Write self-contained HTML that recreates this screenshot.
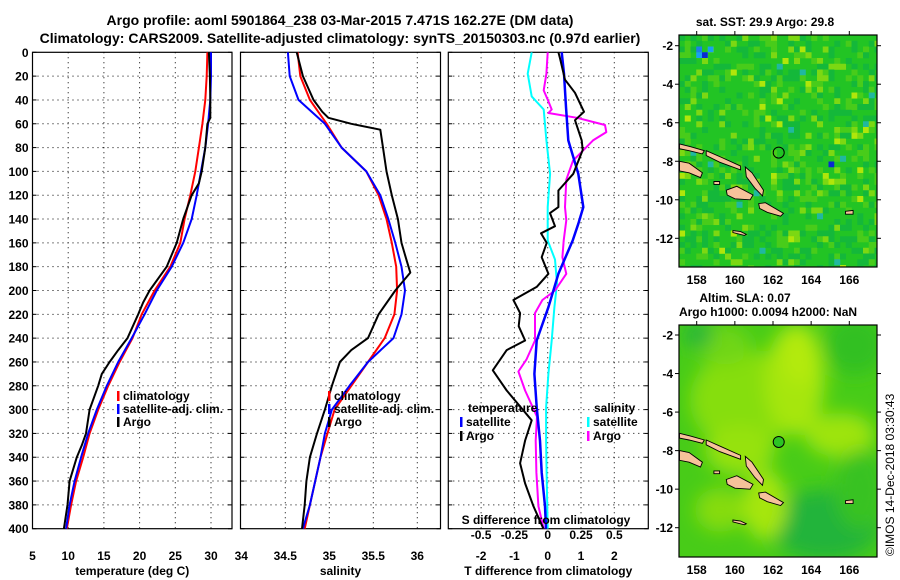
<!DOCTYPE html>
<html><head><meta charset="utf-8"><style>
html,body{margin:0;padding:0;background:#fff;}
svg{display:block;font-family:"Liberation Sans",Arial,sans-serif;font-weight:bold;}
</style></head><body>
<svg id="c" width="900" height="580" viewBox="0 0 900 580" xmlns="http://www.w3.org/2000/svg">
<defs><filter id="blur" x="-20%" y="-20%" width="140%" height="140%"><feGaussianBlur stdDeviation="9"/></filter></defs>
<text x="340" y="25" font-size="14" text-anchor="middle">Argo profile: aoml 5901864_238 03-Mar-2015 7.471S 162.27E (DM data)</text>
<text x="340" y="43" font-size="14" text-anchor="middle">Climatology: CARS2009. Satellite-adjusted climatology: synTS_20150303.nc (0.97d earlier)</text>
<text x="765" y="26" font-size="12" text-anchor="middle">sat. SST: 29.9 Argo: 29.8</text>
<text x="745" y="302" font-size="12" text-anchor="middle">Altim. SLA: 0.07</text>
<text x="768" y="316" font-size="12" text-anchor="middle">Argo h1000: 0.0094 h2000: NaN</text>
<text transform="translate(894,556) rotate(-90)" font-size="12" font-weight="normal">©IMOS 14-Dec-2018 03:30:43</text>
</svg>
<script>
// ---------- data ----------
const depths = [0,20,40,60,80,100,120,140,160,180,200,220,240,260,280,300,320,340,360,380,400];
const tempClim = [29.5,29.4,29.2,28.8,28.3,27.8,27.1,26.3,25.7,24.3,22.1,20.3,19.0,17.2,15.6,14.2,13.0,12.1,11.1,10.4,9.8];
const tempSat  = [30.0,30.0,29.9,29.6,29.2,28.6,28.0,27.3,26.1,24.5,22.4,20.7,18.9,17.0,15.4,14.0,12.8,11.8,10.9,10.2,9.7];
const argoDepthT = [0,20,40,55,60,80,100,110,120,140,160,180,200,210,220,240,250,260,270,280,300,320,330,340,360,380,400];
const tempArgo   = [29.7,29.85,29.9,29.9,29.5,29.2,28.7,28.3,27.3,26.1,25.2,23.8,21.4,20.5,19.8,18.3,17.0,15.8,14.7,14.2,13.0,12.5,11.9,11.2,10.2,9.9,9.4];

const salClim = [34.64,34.67,34.78,34.97,35.14,35.42,35.56,35.65,35.71,35.76,35.77,35.74,35.63,35.44,35.25,35.06,34.98,34.9,34.84,34.78,34.72];
const salSat  = [34.53,34.55,34.65,34.95,35.14,35.42,35.58,35.67,35.75,35.82,35.86,35.82,35.73,35.44,35.23,35.03,34.95,34.9,34.84,34.78,34.7];
const argoDepthS = [0,20,40,50,55,60,65,80,100,120,140,160,175,185,200,220,240,250,260,280,300,320,340,360,380,400];
const salArgo    = [34.63,34.7,34.82,34.92,34.99,35.25,35.58,35.61,35.65,35.71,35.78,35.82,35.88,35.92,35.75,35.56,35.44,35.25,35.12,35.03,34.95,34.86,34.78,34.74,34.72,34.69];

const dDepthTS = [0,18,46,74,102,130,144,158,186,214,242,270,298,326,353,381,400];
const dTsat    = [0.42,0.49,0.55,0.62,0.92,1.07,0.92,0.75,0.32,0.02,-0.33,-0.4,-0.33,-0.23,-0.18,-0.08,-0.05];
const dDepthTA = [0,5,23,34,50,57,74,82,102,116,130,135,146,152,160,172,186,197,208,219,230,242,250,267,284,309,326,345,362,381,400];
const dTargo   = [0.32,0.37,0.52,0.82,1.09,0.82,1.02,1.05,0.77,0.32,0.32,0.07,0.22,-0.2,-0.03,-0.18,0.02,-0.33,-1.03,-0.83,-0.87,-0.68,-1.23,-1.65,-1.23,-0.48,-0.68,-0.83,-0.68,-0.43,-0.13];
const dDepthSS = [0,18,37,48,74,102,130,158,174,194,214,242,270,298,326,353,400];
const dSsat    = [-0.12,-0.15,-0.12,-0.03,-0.01,0.018,0,0,0.055,0.07,0.05,0.03,0.005,-0.012,-0.012,-0.008,0];
const dDepthSA = [0,18,32,40,48,51,55,61,67,74,91,107,130,141,158,172,186,200,208,219,242,258,268,284,306,326,353,381,400];
const dSargo   = [0,-0.01,-0.03,0.001,0.03,0.005,0.22,0.43,0.44,0.34,0.19,0.14,0.13,0.14,0.12,0.11,0.14,0.055,-0.04,-0.095,-0.095,-0.16,-0.22,-0.17,-0.08,-0.09,-0.085,-0.07,-0.03];

const tTicks = [5,10,15,20,25,30];
const sTicks = [34,34.5,35,35.5,36];
const dTicks = [-2,-1,0,1,2];
const sdTicks = [-0.5,-0.25,0,0.25,0.5];
const depthTicks = [0,20,40,60,80,100,120,140,160,180,200,220,240,260,280,300,320,340,360,380,400];
const lonTicks = [158,160,162,164,166];
const latTicks = [-2,-4,-6,-8,-10,-12];

// ---------- helpers ----------
const svg = document.getElementById('c');
const NS = 'http://www.w3.org/2000/svg';
function mk(tag, attrs, parent){const e=document.createElementNS(NS,tag);for(const k in attrs)e.setAttribute(k,attrs[k]);(parent||svg).appendChild(e);return e;}
function lin(d0,d1,r0,r1){return v=>r0+(v-d0)*(r1-r0)/(d1-d0);}
const Y0=52.3,Y1=528.7;
const yD = lin(0,400,Y0,Y1);

function panel(name,x0,x1,xs,xticks,xlabels,xtitle,showY){
  const g=mk('g',{});
  
  
  const fr=mk('rect',{x:x0,y:Y0,width:x1-x0,height:Y1-Y0,fill:'none',stroke:'#000','stroke-width':1.2},g);
  
  
  depthTicks.forEach(d=>{
    if(d>0&&d<400){const gl=mk('line',{x1:x0,x2:x1,y1:yD(d),y2:yD(d),stroke:'#000','stroke-width':1,'stroke-dasharray':'1,4'},g);
    
    }
    mk('line',{x1:x0,x2:x0+4,y1:yD(d),y2:yD(d),stroke:'#000'},g);
    mk('line',{x1:x1-4,x2:x1,y1:yD(d),y2:yD(d),stroke:'#000'},g);
    if(showY){const t=mk('text',{x:x0-4,y:yD(d)+4.5,'font-size':12,'text-anchor':'end'},g);t.textContent=d;
      
      }
  });
  xticks.forEach((v,i)=>{
    const x=xs(v);
    if(x>x0+1&&x<x1-1){const gl=mk('line',{x1:x,x2:x,y1:Y0,y2:Y1,stroke:'#000','stroke-width':1,'stroke-dasharray':'1,4'},g);
      
      }
    const t=mk('text',{x:x,y:560,'font-size':12,'text-anchor':'middle'},g);t.textContent=xlabels[i];
    
    
  });
  const tt=mk('text',{x:(x0+x1)/2,y:575,'font-size':12,'text-anchor':'middle'},g);tt.textContent=xtitle;
  
  
  return g;
}
function line(g,name,xs,xv,dv,color,w){
  const pts=xv.map((v,i)=>xs(v).toFixed(1)+','+yD(dv[i]).toFixed(1)).join(' ');
  const p=mk('polyline',{points:pts,fill:'none',stroke:color,'stroke-width':w||2,'stroke-linejoin':'round'},g);
  
  
}
function legend(g,x,y,color,label){
  mk('rect',{x:x,y:y-9,width:2.5,height:10,fill:color},g);
  const t=mk('text',{x:x+6,y:y,'font-size':12},g);t.textContent=label;
  
  
}

// ---------- panel 1 ----------
const xT=lin(5,30,32.5,211);
const p1=panel('temperature-panel',32.5,232,xT,tTicks,tTicks.map(String),'temperature (deg C)',true);
line(p1,'temp-climatology-line',xT,tempClim,depths,'#f00');
line(p1,'temp-satellite-line',xT,tempSat,depths,'#00f');
line(p1,'temp-argo-line',xT,tempArgo,argoDepthT,'#000');
legend(p1,117,400,'#f00','climatology');
legend(p1,117,413,'#00f','satellite-adj. clim.');
legend(p1,117,426,'#000','Argo');

// ---------- panel 2 ----------
const xS=lin(34,35,241.3,329.3);
const p2=panel('salinity-panel',240.5,440.5,xS,sTicks,sTicks.map(String),'salinity',false);
line(p2,'sal-climatology-line',xS,salClim,depths,'#f00');
line(p2,'sal-satellite-line',xS,salSat,depths,'#00f');
line(p2,'sal-argo-line',xS,salArgo,argoDepthS,'#000');
legend(p2,328,400,'#f00','climatology');
legend(p2,328,413,'#00f','satellite-adj. clim.');
legend(p2,328,426,'#000','Argo');

// ---------- panel 3 ----------
const xDT=lin(0,1,547.7,581);
const xDS=v=>xDT(v*4);
const p3=panel('difference-panel',448.3,648.3,xDT,dTicks,dTicks.map(String),'T difference from climatology',false);
line(p3,'dsal-satellite-line',xDS,dSsat,dDepthSS,'#0ff');
line(p3,'dsal-argo-line',xDS,dSargo,dDepthSA,'#f0f');
line(p3,'dtemp-satellite-line',xDT,dTsat,dDepthTS,'#00f',2.5);
line(p3,'dtemp-argo-line',xDT,dTargo,dDepthTA,'#000');
const st=mk('text',{x:546,y:524,'font-size':12,'text-anchor':'middle'},p3);st.textContent='S difference from climatology';


sdTicks.forEach(v=>{const t=mk('text',{x:xDS(v),y:539,'font-size':12,'text-anchor':'middle'},p3);t.textContent=String(v);
  
  });
const lt=mk('text',{x:468,y:412,'font-size':12},p3);lt.textContent='temperature';


const ls=mk('text',{x:594,y:412,'font-size':12},p3);ls.textContent='salinity';


legend(p3,460,426,'#00f','satellite');
legend(p3,460,440,'#000','Argo');
legend(p3,587,426,'#0ff','satellite');
legend(p3,587,440,'#f0f','Argo');

// ---------- maps ----------
const islands = [
 [[157.1,-7.1],[157.7,-7.25],[158.4,-7.45],[158.3,-7.62],[157.6,-7.45],[157.1,-7.35]],
 [[158.5,-7.45],[159.3,-7.8],[160.3,-8.25],[160.3,-8.45],[159.2,-8.05],[158.5,-7.7]],
 [[157.1,-8.0],[157.6,-8.1],[158.3,-8.6],[158.2,-8.85],[157.6,-8.6],[157.1,-8.5]],
 [[160.55,-8.3],[160.9,-8.6],[161.5,-9.5],[161.45,-9.8],[161.05,-9.4],[160.6,-8.8]],
 [[159.55,-9.5],[160.1,-9.3],[160.95,-9.75],[160.8,-10.0],[160.0,-9.95],[159.6,-9.75]],
 [[161.25,-10.2],[161.6,-10.15],[162.55,-10.7],[162.4,-10.85],[161.7,-10.65],[161.3,-10.45]],
 [[158.9,-9.05],[159.2,-9.05],[159.2,-9.2],[158.9,-9.2]],
 [[159.9,-11.6],[160.3,-11.65],[160.6,-11.8],[160.5,-11.85],[159.9,-11.7]],
 [[165.8,-10.6],[166.2,-10.55],[166.2,-10.75],[165.8,-10.75]]
];
function map(name,top,lat2y,colorFn,extra){
  const L=679,R=877,B=top===35?267:557;
  const xL=lin(158,166,696.7,849.3);
  const g=mk('g',{});
  
  
  const cid='clip'+top;
  const cp=mk('clipPath',{id:cid},g);mk('rect',{x:L,y:top,width:R-L,height:B-top},cp);
  const inner=mk('g',{'clip-path':'url(#'+cid+')'},g);
  colorFn(inner,L,R,top,B);
  islands.forEach(poly=>{
    const pts=poly.map(p=>xL(p[0]).toFixed(1)+','+lat2y(p[1]).toFixed(1)).join(' ');
    const pl=mk('polygon',{points:pts,fill:'#f6c29a',stroke:'#000','stroke-width':0.9},inner);
    
    
  });
  const m=mk('circle',{cx:xL(162.3),cy:lat2y(-7.55),r:5.5,fill:extra||'none',stroke:'#000','stroke-width':1},inner);
  
  
  mk('rect',{x:L,y:top,width:R-L,height:B-top,fill:'none',stroke:'#000','stroke-width':1.2},g);
  lonTicks.forEach(v=>{const x=xL(v);
    mk('line',{x1:x,x2:x,y1:top-4,y2:top,stroke:'#000'},g);
    const t=mk('text',{x:x,y:B+17,'font-size':12,'text-anchor':'middle'},g);t.textContent=v;
    
    });
  latTicks.forEach(v=>{const y=lat2y(v);
    mk('line',{x1:L-4,x2:L,y1:y,y2:y,stroke:'#000'},g);
    mk('line',{x1:R,x2:R+4,y1:y,y2:y,stroke:'#000'},g);
    const t=mk('text',{x:L-6,y:y+4.5,'font-size':12,'text-anchor':'end'},g);t.textContent=v;
    
    });
}
function h(i,j){let n=(i*73856093)^(j*19349663);n=(n^(n>>13))*1274126177;return ((n^(n>>16))>>>0)/4294967296;}
map('sst-map',35,lin(-2,-12,45.7,238.3),(g,L,R,T,B)=>{
  mk('rect',{x:L,y:T,width:R-L,height:B-T,fill:'#22c424'},g);
  const s=5.75;
  for(let i=0;i*s<R-L;i++)for(let j=0;j*s<B-T;j++){
    const r=h(i,j);let c=null;
    if(r<0.10)c='#14b83a';else if(r<0.17)c='#48cc1a';else if(r<0.20)c='#7cd812';else if(r<0.21)c='#b0e60a';else if(r<0.215)c='#20b8a0';
    if(c)mk('rect',{x:L+i*s,y:T+j*s,width:s+0.3,height:s+0.3,fill:c},g);
  }
  [[3,2,'#1c80e8'],[4,3,'#0a2ad0'],[5,2,'#18a0f0'],[3,3,'#18a0f0'],[26,22,'#0a2ad0']].forEach(c=>{
    mk('rect',{x:L+c[0]*s,y:T+c[1]*s,width:s,height:s,fill:c[2]},g);});
});
map('sla-map',325,lin(-2,-12,335,527.7),(g,L,R,T,B)=>{
  mk('rect',{x:L,y:T,width:R-L,height:B-T,fill:'#48cc18'},g);
  const bg=mk('g',{filter:'url(#blur)'},g);
  const blobs=[[745,400,55,50,'#86de0e'],[795,380,30,55,'#a6e60a'],[800,355,18,30,'#b4ea08'],[840,435,35,22,'#9ee40a'],[740,450,35,25,'#96e20c'],[725,345,25,20,'#70d612'],[855,345,30,30,'#30c024'],[825,525,55,35,'#22b43a'],[698,335,15,12,'#20b43c'],[720,510,25,22,'#86dc10'],[765,505,22,35,'#a6e60a'],[860,490,25,40,'#38c220']];
  blobs.forEach(b=>mk('ellipse',{cx:b[0],cy:b[1],rx:b[2],ry:b[3],fill:b[4]},bg));
},'#2cc424');
</script>
</body></html>
